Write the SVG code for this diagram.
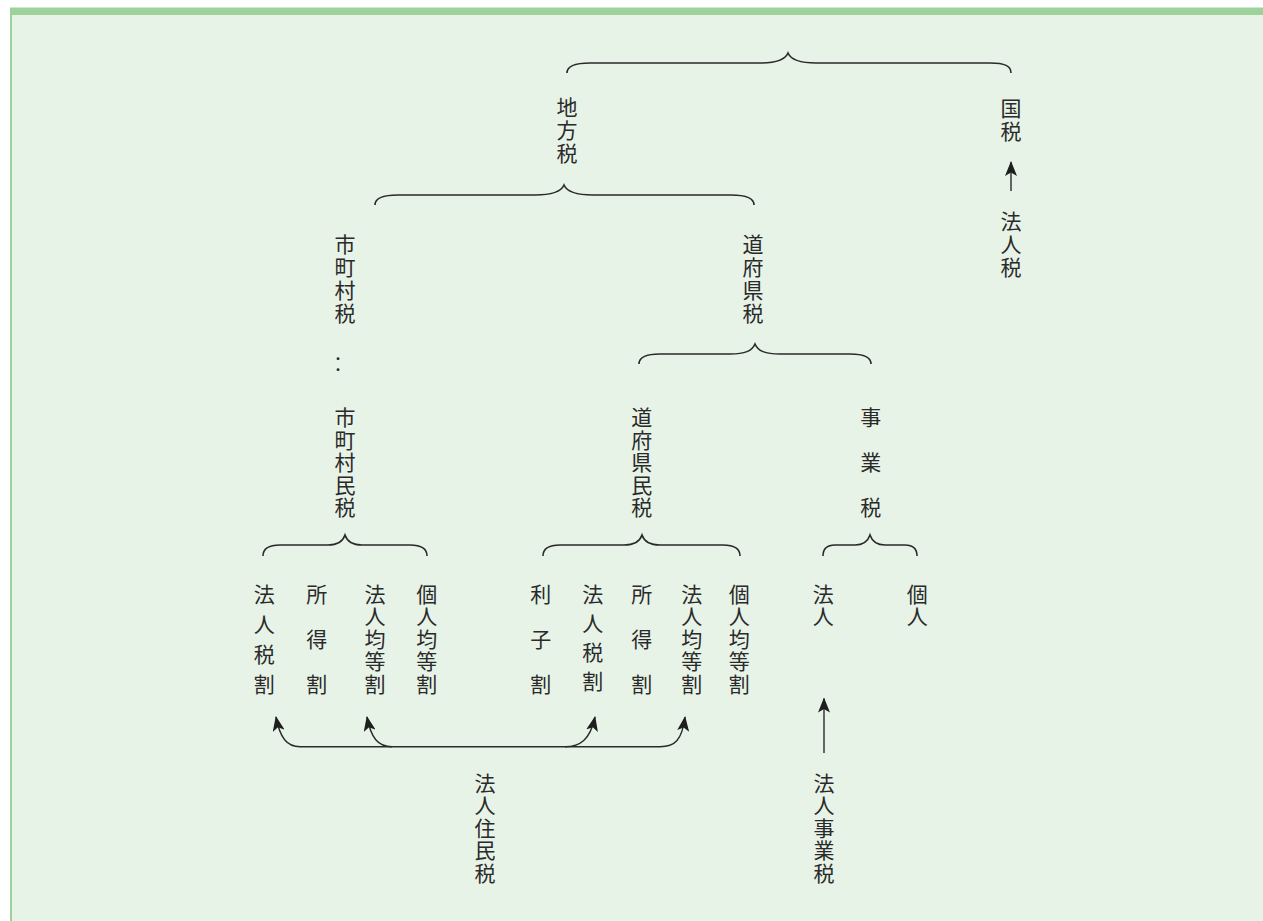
<svg xmlns="http://www.w3.org/2000/svg" width="1263" height="921" viewBox="0 0 1263 921">
<style>
.t{font-family:"Noto Sans CJK JP","Noto Sans CJK SC",sans-serif;font-size:21px;fill:#2a2a2a;writing-mode:vertical-rl;text-orientation:upright}
.p23{letter-spacing:2px}
.p225{letter-spacing:1.5px}
.p30{letter-spacing:9px}
.p29{letter-spacing:8px}
.p45{letter-spacing:24px}
.br{fill:none;stroke:#2a2a2a;stroke-width:1.6}
.ar{fill:none;stroke:#2a2a2a;stroke-width:1.4;marker-end:url(#ah)}
</style>
<defs>
<marker id="ah" viewBox="0 0 15 12" refX="14" refY="6" markerWidth="15" markerHeight="12" markerUnits="userSpaceOnUse" orient="auto">
<path d="M0,0 L15,6 L0,12 L3.5,6 z" fill="#1e1e1e"/>
</marker>
</defs>
<rect x="0" y="0" width="1263" height="921" fill="#ffffff"/>
<rect x="10" y="7.5" width="1253" height="913.5" fill="#9dd39b"/>
<rect x="12" y="15" width="1251" height="906" fill="#e7f3e7"/>

<g id="braces">
<path class="br" d="M567,73 C567,66 575,63 590,63 L760,63 C775,63 785,60 788,53 C791,60 801,63 816,63 L990,63 C1005,63 1011,66 1011,73"/>
<path class="br" d="M375,205 C375,198 383,195 398,195 L535,195 C550,195 561,192 564,185 C567,192 578,195 593,195 L731,195 C746,195 754,198 754,205"/>
<path class="br" d="M639,364 C639,357 647,354 660,354 L730,354 C745,354 752,351 755,344 C758,351 765,354 780,354 L850,354 C863,354 871,357 871,364"/>
<path class="br" d="M263,556 C263,549 268,545 280,545 L328,545 C338,545 343,541 345,535 C347,541 352,545 362,545 L410,545 C422,545 427,549 427,556"/>
<path class="br" d="M543,556 C543,549 548,545 560,545 L624,545 C634,545 640,541 642,535 C644,541 650,545 660,545 L723,545 C735,545 740,549 740,556"/>
<path class="br" d="M823,556 C823,549 826,545 835,545 L855,545 C864,545 868,541 870,535 C872,541 876,545 885,545 L905,545 C914,545 917,549 917,556"/>
</g>

<g id="connectors">
<path class="ar" d="M1011,191 L1011,162"/>
<path class="ar" d="M824,753 L824,698.5"/>
<path fill="none" stroke="#2a2a2a" stroke-width="1.4" d="M300,746.7 L660,746.7"/>
<path class="ar" d="M300,746.7 C287,746.7 280,738 276,717"/>
<path class="ar" d="M392,746.7 C378,746.7 371,738 367,717"/>
<path class="ar" d="M565,746.7 C580,746.7 590,740 595,717"/>
<path class="ar" d="M660,746.7 C675,746.7 682,740 685,717"/>
</g>

<g id="chiho"><text class="t p23" x="567" y="97">地方税</text></g>
<g id="kokuzei"><text class="t p23" x="1011" y="97.5">国税</text></g>
<g id="hojinzei"><text class="t p23" x="1011" y="211">法人税</text></g>
<g id="shichoson"><text class="t p23" x="345" y="233.5">市町村税</text></g>
<g id="dots"><text class="t" x="338" y="353.5">‥</text></g>
<g id="dofuken"><text class="t p23" x="753" y="233.5">道府県税</text></g>
<g id="shichosonmin"><text class="t p225" x="345" y="407">市町村民税</text></g>
<g id="dofukenmin"><text class="t p225" x="641.7" y="407">道府県民税</text></g>
<g id="jigyo"><text class="t p45" x="870.7" y="406.5">事業税</text></g>

<g id="s-hojinzeiwari"><text class="t p30" x="264.3" y="583.5">法人税割</text></g>
<g id="s-shotokuwari"><text class="t p45" x="316.7" y="583.5">所得割</text></g>
<g id="s-hojinkinto"><text class="t p225" x="375" y="583.5">法人均等割</text></g>
<g id="s-kojinkinto"><text class="t p225" x="426.7" y="583.5">個人均等割</text></g>

<g id="d-rishiwari"><text class="t p45" x="540.7" y="583.5">利子割</text></g>
<g id="d-hojinzeiwari"><text class="t p29" x="592.7" y="583.5">法人税割</text></g>
<g id="d-shotokuwari"><text class="t p45" x="641.7" y="583.5">所得割</text></g>
<g id="d-hojinkinto"><text class="t p225" x="691.7" y="583.5">法人均等割</text></g>
<g id="d-kojinkinto"><text class="t p225" x="739.3" y="583.5">個人均等割</text></g>

<g id="j-hojin"><text class="t p225" x="823.3" y="583.5">法人</text></g>
<g id="j-kojin"><text class="t p225" x="917.3" y="583.5">個人</text></g>

<g id="hojinjumin"><text class="t p225" x="485" y="772.5">法人住民税</text></g>
<g id="hojinjigyo"><text class="t p225" x="824" y="772.5">法人事業税</text></g>
</svg>
